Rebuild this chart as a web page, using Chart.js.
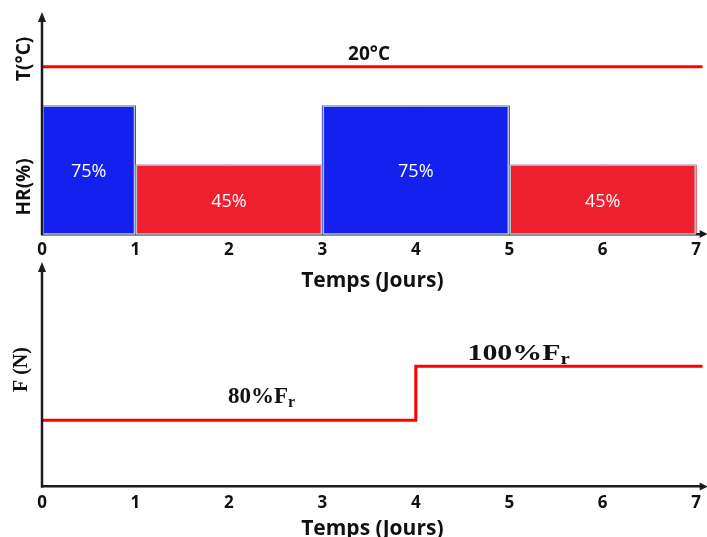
<!DOCTYPE html>
<html>
<head>
<meta charset="utf-8">
<script src="https://cdn.jsdelivr.net/npm/chart.js@4.4.0/dist/chart.umd.min.js"></script>
<style>
  html, body { margin: 0; padding: 0; background: #fff; }
  #wrap { position: relative; width: 707px; height: 537px; overflow: hidden; }
  #top { position: absolute; left: 0; top: 0; width: 707px; height: 295px; }
  #bot { position: absolute; left: 0; top: 262px; width: 707px; height: 278px; }
</style>
</head>
<body>
<div id="wrap">
  <div id="top"><canvas id="c1"></canvas></div>
  <div id="bot"><canvas id="c2"></canvas></div>
</div>
<script>
// data
var dayTicks = [0, 1, 2, 3, 4, 5, 6, 7];
var days = [1, 2, 3, 4, 5, 6, 7];
var hr = [75, 45, 45, 75, 75, 45, 45];      // HR (%) per day
var temperature = 20;                        // T (°C), constant
var timeEnd = 7.07;                          // the time axis runs a bit past day 7
var forceDays = [0, 4, timeEnd];
var forcePct = [80, 100, 100];               // % of F_r
var forceLabels = ['80%F', '100%F'];

var BLUE = '#1420ee';
var RED_BAR = '#ef1f30';
var RED_LINE = '#ff0000';
var AXIS = '#1c1c1c';

var tickFont = { family: 'Open Sans', weight: 'bold', size: 17 };

// y axis line with arrow, plus small arrow on x axis
var axisArrows = {
  id: 'axisArrows',
  afterDraw: function (chart) {
    var a = chart.chartArea, ctx = chart.ctx;
    ctx.save();
    ctx.strokeStyle = AXIS;
    ctx.fillStyle = AXIS;
    ctx.lineWidth = 2.5;
    ctx.beginPath();
    ctx.moveTo(a.left, a.bottom + 1);
    ctx.lineTo(a.left, a.top + 4);
    ctx.stroke();
    ctx.beginPath();
    ctx.moveTo(a.left, a.top - 3);
    ctx.lineTo(a.left - 4, a.top + 7);
    ctx.lineTo(a.left + 4, a.top + 7);
    ctx.closePath();
    ctx.fill();
    ctx.beginPath();
    ctx.moveTo(a.right + 5, a.bottom);
    ctx.lineTo(a.right - 3, a.bottom - 4);
    ctx.lineTo(a.right - 3, a.bottom + 4);
    ctx.closePath();
    ctx.fill();
    ctx.restore();
  }
};

// texts and block outlines of the top panel
var topTexts = {
  id: 'topTexts',
  afterDatasetsDraw: function (chart) {
    var ctx = chart.ctx, a = chart.chartArea;
    var x = chart.scales.x, yHR = chart.scales.yHR, yT = chart.scales.yT;
    ctx.save();
    ctx.textAlign = 'center';
    ctx.textBaseline = 'middle';
    var start = 0;
    for (var i = 1; i <= hr.length; i++) {
      if (i === hr.length || hr[i] !== hr[start]) {
        var x1 = x.getPixelForValue(days[start] - 1), x2 = x.getPixelForValue(days[i - 1]);
        var yTop = yHR.getPixelForValue(hr[start]);
        ctx.strokeStyle = '#b4c0d4';
        ctx.lineWidth = 1.5;
        ctx.strokeRect(x1 + 1, yTop, x2 - x1 - 2, a.bottom - yTop);
        ctx.fillStyle = '#fff';
        ctx.font = '18px "Open Sans"';
        ctx.fillText(hr[start] + '%', (x1 + x2) / 2, (yTop + a.bottom) / 2 + 2);
        start = i;
      }
    }
    // temperature label
    ctx.fillStyle = '#111';
    ctx.font = 'bold 19px "Open Sans"';
    ctx.fillText(temperature + '°C', x.getPixelForValue(3.5), yT.getPixelForValue(temperature) - 12);
    // y titles
    ctx.translate(25, 0);
    ctx.rotate(-Math.PI / 2);
    ctx.fillText('T(°C)', -(yT.getPixelForValue(temperature) - 8), 0);
    ctx.fillText('HR(%)', -(a.top + 0.785 * (a.bottom - a.top)), 0);
    ctx.restore();
  }
};

// texts of the bottom panel
var botTexts = {
  id: 'botTexts',
  afterDatasetsDraw: function (chart) {
    var ctx = chart.ctx, a = chart.chartArea;
    var x = chart.scales.x, y = chart.scales.yF;
    var labelDay = [2.35, 5.1], lift = [25, 14], stretch = [1, 1.3];
    var big = 'bold 23px "Liberation Serif"', small = 'bold 16px "Liberation Serif"';
    ctx.save();
    ctx.fillStyle = '#111';
    ctx.textBaseline = 'alphabetic';
    ctx.textAlign = 'left';
    for (var k = 0; k < forceLabels.length; k++) {
      var cx = x.getPixelForValue(labelDay[k]);
      var cy = y.getPixelForValue(forcePct[k]) - lift[k];
      ctx.font = big;
      var w1 = ctx.measureText(forceLabels[k]).width;
      ctx.font = small;
      var w2 = ctx.measureText('r').width;
      ctx.save();
      ctx.translate(cx, cy);
      ctx.scale(stretch[k], 1);
      var x0 = -(w1 + w2) / 2;
      ctx.font = big;
      ctx.fillText(forceLabels[k], x0, 8);
      ctx.font = small;
      ctx.fillText('r', x0 + w1, 12);
      ctx.restore();
    }
    ctx.font = 'bold 20px "Liberation Serif"';
    ctx.textAlign = 'center';
    ctx.textBaseline = 'middle';
    ctx.translate(22, a.top + 0.472 * (a.bottom - a.top));
    ctx.rotate(-Math.PI / 2);
    ctx.fillText('F (N)', 0, 0);
    ctx.restore();
  }
};

function timeAxis(titlePadTop, titleLineHeight) {
  return {
    type: 'linear',
    offset: false,
    min: 0,
    max: timeEnd,
    afterBuildTicks: function (s) {
      s.ticks = dayTicks.map(function (v) { return { value: v }; });
    },
    ticks: { font: tickFont, color: '#111', padding: 6, maxRotation: 0, autoSkip: false },
    grid: { display: false, drawTicks: false },
    border: { display: true, color: AXIS, width: 2.5 },
    title: {
      display: true, text: 'Temps (Jours)', color: '#111',
      font: { family: 'Open Sans', weight: 'bold', size: 21, lineHeight: titleLineHeight },
      padding: { top: titlePadTop, bottom: 0 }
    }
  };
}

new Chart(document.getElementById('c1'), {
  type: 'bar',
  data: {
    datasets: [
      {
        type: 'bar',
        label: 'HR (%)',
        yAxisID: 'yHR',
        data: days.map(function (d, i) { return { x: d - 0.5, y: hr[i] }; }),
        backgroundColor: function (ctx) { return hr[ctx.dataIndex] === 75 ? BLUE : RED_BAR; },
        borderWidth: 0,
        inflateAmount: 0.5,
        barPercentage: 1,
        categoryPercentage: 1
      },
      {
        type: 'line',
        label: 'T (°C)',
        yAxisID: 'yT',
        data: [{ x: 0, y: temperature }, { x: timeEnd, y: temperature }],
        borderColor: RED_LINE,
        borderWidth: 3,
        pointRadius: 0
      }
    ]
  },
  options: {
    responsive: true,
    maintainAspectRatio: false,
    animation: false,
    layout: { padding: { left: 42, right: 0, top: 15, bottom: 1.4 } },
    plugins: { legend: { display: false }, tooltip: { enabled: false } },
    scales: {
      x: timeAxis(2, 1.2),
      yHR: { display: false, min: 10, max: 121.3 },
      yT: { display: false, min: 0, max: 26.2 }
    }
  },
  plugins: [topTexts, axisArrows]
});

new Chart(document.getElementById('c2'), {
  type: 'line',
  data: {
    datasets: [{
      label: 'F (N)',
      yAxisID: 'yF',
      data: forceDays.map(function (d, i) { return { x: d, y: forcePct[i] }; }),
      stepped: true,
      borderColor: RED_LINE,
      borderWidth: 3,
      pointRadius: 0
    }]
  },
  options: {
    responsive: true,
    maintainAspectRatio: false,
    animation: false,
    layout: { padding: { left: 42, right: 0, top: 3, bottom: 0 } },
    plugins: { legend: { display: false }, tooltip: { enabled: false } },
    scales: {
      x: timeAxis(0, 1),
      yF: { display: false, min: 55.5, max: 137.4 }
    }
  },
  plugins: [botTexts, axisArrows]
});
</script>
</body>
</html>
